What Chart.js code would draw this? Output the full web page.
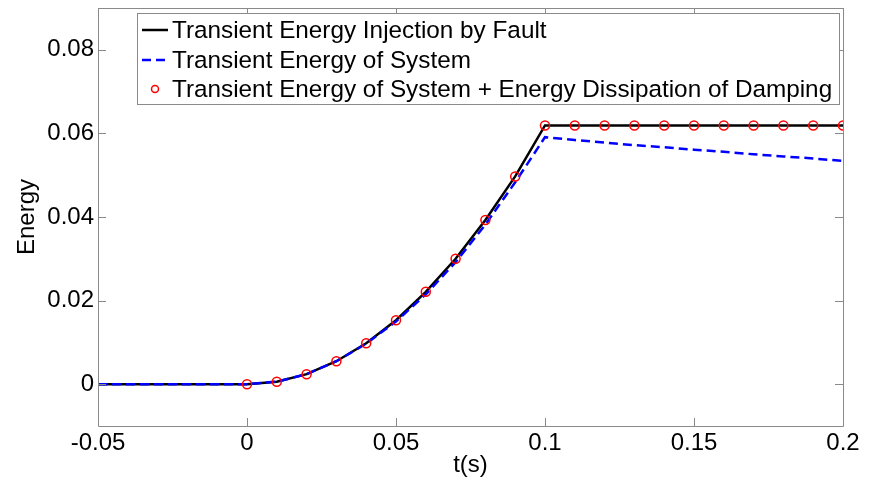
<!DOCTYPE html>
<html>
<head>
<meta charset="utf-8">
<script src="https://cdn.jsdelivr.net/npm/chart.js@4.4.1/dist/chart.umd.min.js"></script>
<style>
  html, body { margin: 0; padding: 0; background: #fff; }
  #wrap { width: 871px; height: 478px; }
</style>
</head>
<body>
<div id="wrap"><canvas id="energy-chart" width="871" height="478"></canvas></div>
<script>
// time axis and energy curves
const tInjection = [-0.05, 0, 0.01, 0.02, 0.03, 0.04, 0.05, 0.06, 0.07, 0.08, 0.09, 0.1, 0.2];
const energyInjection = [0, 0, 0.0006, 0.0024, 0.0055, 0.0098, 0.0153, 0.0221, 0.0300, 0.0393, 0.0497, 0.0619, 0.0619];

const tSystem = [-0.05, 0, 0.01, 0.02, 0.03, 0.04, 0.05, 0.06, 0.07, 0.08, 0.09, 0.1,
                 0.11, 0.12, 0.13, 0.14, 0.15, 0.16, 0.17, 0.18, 0.19, 0.2];
const energySystem = [0, 0, 0.0006, 0.0024, 0.0055, 0.0097, 0.0150, 0.0215, 0.0292, 0.0382, 0.0483, 0.0591,
                      0.0584, 0.0578, 0.0572, 0.0567, 0.0561, 0.0556, 0.0550, 0.0545, 0.0540, 0.0534];

const tDamping = [0, 0.01, 0.02, 0.03, 0.04, 0.05, 0.06, 0.07, 0.08, 0.09, 0.1,
                  0.11, 0.12, 0.13, 0.14, 0.15, 0.16, 0.17, 0.18, 0.19, 0.2];
const energyDamping = [0, 0.0006, 0.0024, 0.0055, 0.0098, 0.0153, 0.0221, 0.0300, 0.0393, 0.0497, 0.0619,
                       0.0619, 0.0619, 0.0619, 0.0619, 0.0619, 0.0619, 0.0619, 0.0619, 0.0619, 0.0619];

const seriesLabels = [
    "Transient Energy Injection by Fault",
    "Transient Energy of System",
    "Transient Energy of System + Energy Dissipation of Damping"
];

const xTickValues = [-0.05, 0, 0.05, 0.1, 0.15, 0.2];
const xTickLabels = ["-0.05", "0", "0.05", "0.1", "0.15", "0.2"];
const yTickValues = [0, 0.02, 0.04, 0.06, 0.08];
const yTickLabels = ["0", "0.02", "0.04", "0.06", "0.08"];

const FONT = "'Liberation Sans', Arial, sans-serif";
const AXIS_GREY = "#8a8a8a";

function toPoints(xs, ys) {
    return xs.map((x, i) => ({ x: x, y: ys[i] }));
}

// box around the plot with inward ticks on all four sides
const frameTicks = {
    id: "frameTicks",
    afterDatasetsDraw(chart) {
        const { ctx, chartArea: a, scales } = chart;
        const len = 8;
        ctx.save();
        ctx.strokeStyle = AXIS_GREY;
        ctx.lineWidth = 1;
        ctx.beginPath();
        ctx.rect(Math.round(a.left) + 0.5, Math.round(a.top) + 0.5,
                 Math.round(a.right - a.left), Math.round(a.bottom - a.top));
        xTickValues.forEach(v => {
            const px = Math.round(scales.x.getPixelForValue(v)) + 0.5;
            ctx.moveTo(px, a.bottom); ctx.lineTo(px, a.bottom - len);
            ctx.moveTo(px, a.top); ctx.lineTo(px, a.top + len);
        });
        yTickValues.forEach(v => {
            const py = Math.round(scales.y.getPixelForValue(v)) + 0.5;
            ctx.moveTo(a.left, py); ctx.lineTo(a.left + len, py);
            ctx.moveTo(a.right, py); ctx.lineTo(a.right - len, py);
        });
        ctx.stroke();
        ctx.restore();
    }
};

// legend box in the upper part of the plot
const boxLegend = {
    id: "boxLegend",
    afterDraw(chart) {
        const ctx = chart.ctx;
        const left = 137, top = 13, right = 839, bottom = 104;
        const rows = [30, 60, 89];
        ctx.save();
        ctx.fillStyle = "#fff";
        ctx.fillRect(left, top, right - left, bottom - top);
        ctx.strokeStyle = AXIS_GREY;
        ctx.lineWidth = 1;
        ctx.strokeRect(left + 0.5, top + 0.5, right - left, bottom - top);

        chart.data.datasets.forEach((ds, i) => {
            const y = rows[i];
            if (ds.showLine) {
                ctx.strokeStyle = ds.borderColor;
                ctx.lineWidth = ds.borderWidth;
                ctx.setLineDash(ds.borderDash || []);
                ctx.beginPath();
                ctx.moveTo(142, y);
                ctx.lineTo(168, y);
                ctx.stroke();
                ctx.setLineDash([]);
            } else {
                ctx.strokeStyle = ds.pointBorderColor;
                ctx.lineWidth = 1.5;
                ctx.beginPath();
                ctx.arc(155, y, 3.5, 0, Math.PI * 2);
                ctx.stroke();
            }
            ctx.fillStyle = "#000";
            ctx.font = "24.3px " + FONT;
            ctx.textBaseline = "middle";
            ctx.fillText(ds.label, 172, y + 1);
        });
        ctx.restore();
    }
};

const canvas = document.getElementById("energy-chart");

new Chart(canvas, {
    type: "scatter",
    data: {
        datasets: [
            {
                label: seriesLabels[0],
                data: toPoints(tInjection, energyInjection),
                showLine: true,
                borderColor: "#000",
                borderWidth: 2.5,
                pointRadius: 0,
                order: 3
            },
            {
                label: seriesLabels[1],
                data: toPoints(tSystem, energySystem),
                showLine: true,
                borderColor: "#0000ff",
                borderWidth: 2.5,
                borderDash: [9, 5],
                pointRadius: 0,
                order: 2
            },
            {
                label: seriesLabels[2],
                data: toPoints(tDamping, energyDamping),
                showLine: false,
                pointRadius: 4.5,
                pointBorderWidth: 1.5,
                pointBorderColor: "#ff0000",
                pointBackgroundColor: "rgba(0,0,0,0)",
                order: 1
            }
        ]
    },
    options: {
        responsive: false,
        animation: false,
        layout: { padding: { top: 8, right: 28, left: 0, bottom: 0 } },
        plugins: {
            legend: { display: false },
            tooltip: { enabled: false }
        },
        scales: {
            x: {
                type: "linear",
                min: -0.05,
                max: 0.2,
                afterBuildTicks: s => { s.ticks = xTickValues.map(v => ({ value: v })); },
                afterFit: s => { s.height = 52; s.paddingLeft = 0; s.paddingRight = 0; },
                grid: { display: false, tickLength: 0 },
                border: { display: false },
                ticks: {
                    color: "#000",
                    font: { family: FONT, size: 24 },
                    padding: 3,
                    maxRotation: 0,
                    callback: (v) => xTickLabels[xTickValues.findIndex(t => Math.abs(t - v) < 1e-9)]
                },
                title: {
                    display: true,
                    text: "t(s)",
                    color: "#000",
                    font: { family: FONT, size: 24 },
                    padding: { top: 0, bottom: -2 }
                }
            },
            y: {
                type: "linear",
                min: -0.01,
                max: 0.09,
                afterBuildTicks: s => { s.ticks = yTickValues.map(v => ({ value: v })); },
                afterFit: s => { s.width = 98; s.paddingTop = 0; s.paddingBottom = 0; },
                grid: { display: false, tickLength: 0 },
                border: { display: false },
                ticks: {
                    color: "#000",
                    font: { family: FONT, size: 24 },
                    padding: 4,
                    callback: (v) => yTickLabels[yTickValues.findIndex(t => Math.abs(t - v) < 1e-9)]
                },
                title: {
                    display: true,
                    text: "Energy",
                    color: "#000",
                    font: { family: FONT, size: 24 },
                    padding: { top: 13, bottom: 0 }
                }
            }
        }
    },
    plugins: [frameTicks, boxLegend]
});
</script>
</body>
</html>
